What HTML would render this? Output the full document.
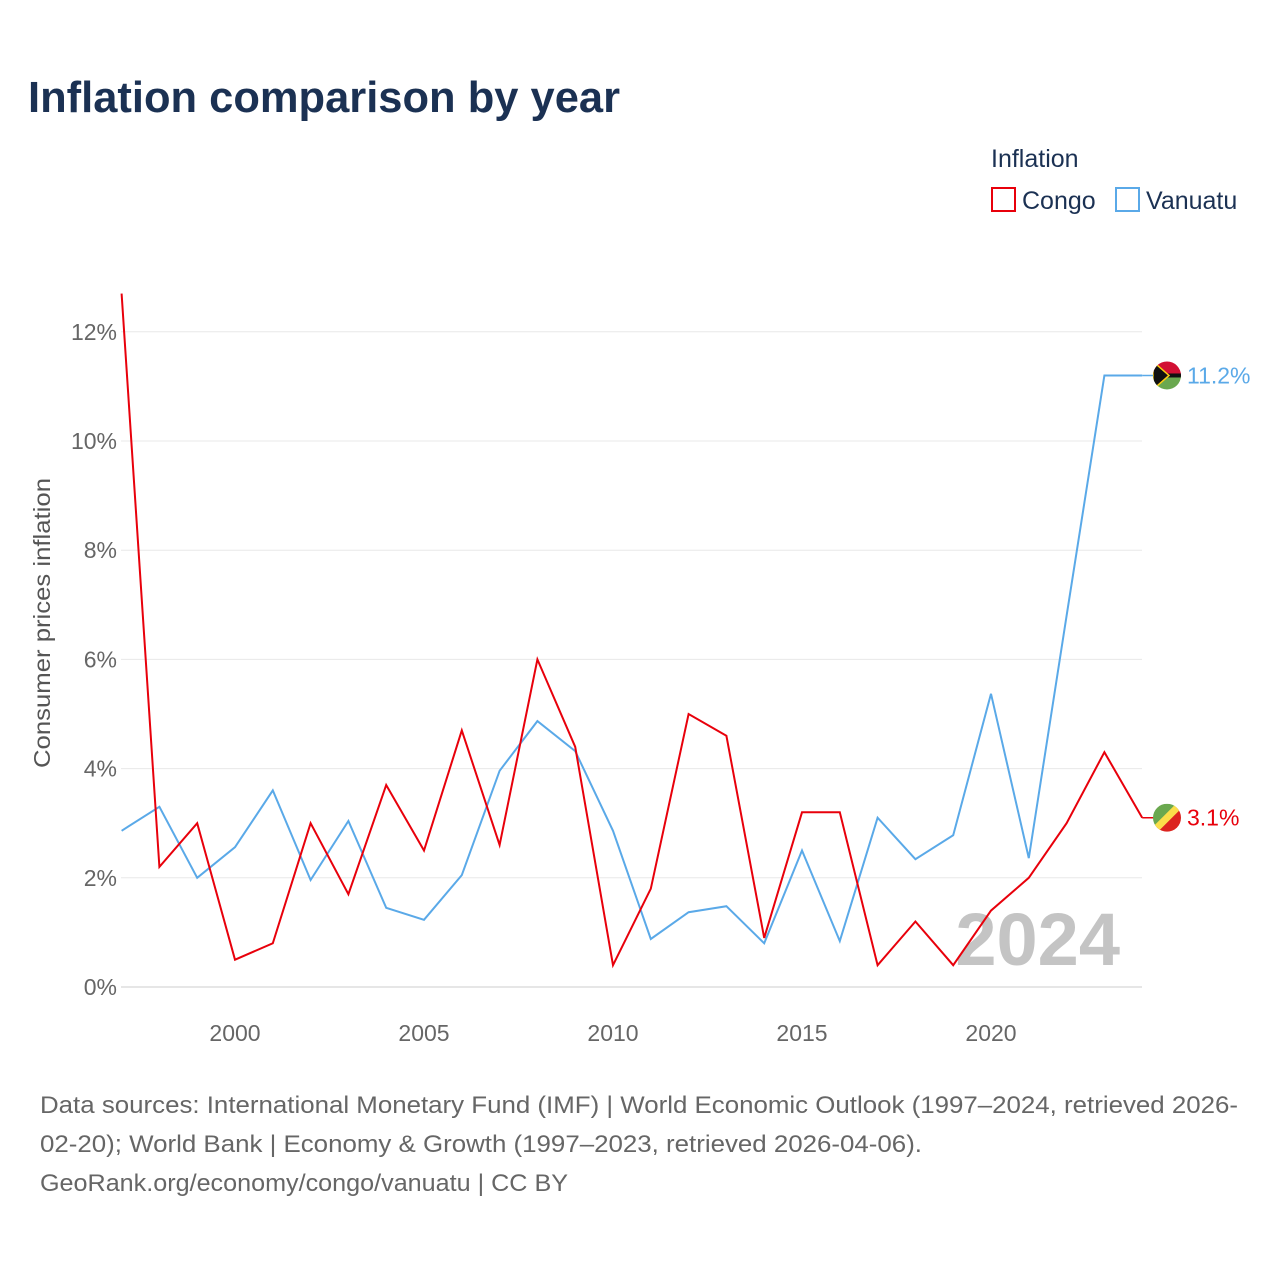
<!DOCTYPE html>
<html><head><meta charset="utf-8">
<style>
body{margin:0;background:#fff;font-family:"Liberation Sans",sans-serif;}
#wrap{position:relative;width:1280px;height:1280px;overflow:hidden;}
</style></head>
<body>
<div id="wrap">
<svg id="chart" width="1280" height="1280">
<text x="28" y="112" font-size="44" font-weight="bold" fill="#1b3153" textLength="592" lengthAdjust="spacingAndGlyphs">Inflation comparison by year</text>
<text x="991" y="167" font-size="25" fill="#1b3153">Inflation</text>
<g>
<rect x="992" y="188" width="23" height="23" fill="#fff" stroke="#e8000b" stroke-width="2"/>
<text x="1022" y="209" font-size="25" fill="#1b3153">Congo</text></g>
<g>
<rect x="1116" y="188" width="23" height="23" fill="#fff" stroke="#5aa9e8" stroke-width="2"/>
<text x="1146" y="209" font-size="25" fill="#1b3153">Vanuatu</text></g>
<text transform="translate(50,623) rotate(-90)" text-anchor="middle" font-size="23" fill="#555" textLength="290" lengthAdjust="spacingAndGlyphs">Consumer prices inflation</text>
<g id="grid"></g>
<text x="1120" y="965" text-anchor="end" font-size="74" font-weight="bold" fill="#c4c4c4">2024</text>
<g id="series"></g>
<text x="40" y="1113" font-size="24" fill="#666" textLength="1198" lengthAdjust="spacingAndGlyphs">Data sources: International Monetary Fund (IMF) | World Economic Outlook (1997–2024, retrieved 2026-</text>
<text x="40" y="1152" font-size="24" fill="#666" textLength="882" lengthAdjust="spacingAndGlyphs">02-20); World Bank | Economy &amp; Growth (1997–2023, retrieved 2026-04-06).</text>
<text x="40" y="1191" font-size="24" fill="#666" textLength="528" lengthAdjust="spacingAndGlyphs">GeoRank.org/economy/congo/vanuatu | CC BY</text>
</svg>
</div>
<script>
const years=[1997,1998,1999,2000,2001,2002,2003,2004,2005,2006,2007,2008,2009,2010,2011,2012,2013,2014,2015,2016,2017,2018,2019,2020,2021,2022,2023,2024];
const congo=[12.7,2.2,3.0,0.5,0.8,3.0,1.7,3.7,2.5,4.7,2.6,6.0,4.4,0.4,1.8,5.0,4.6,0.9,3.2,3.2,0.4,1.2,0.4,1.4,2.0,3.0,4.3,3.1];
const vanuatu=[2.86,3.3,2.0,2.56,3.6,1.96,3.04,1.45,1.23,2.05,3.96,4.87,4.32,2.86,0.88,1.37,1.48,0.8,2.5,0.84,3.1,2.34,2.78,5.37,2.36,6.8,11.2,11.2];
const yTicks=[0,2,4,6,8,10,12];
const xTicks=[2000,2005,2010,2015,2020];
const xs=y=>235+(y-2000)*37.8;
const ys=v=>987-v*54.6;
const NS="http://www.w3.org/2000/svg";
function mk(tag,attrs,parent){const e=document.createElementNS(NS,tag);for(const k in attrs)e.setAttribute(k,attrs[k]);parent.appendChild(e);return e;}
const grid=document.getElementById('grid');
yTicks.forEach(t=>{
 const l=mk('line',{x1:121,x2:1142,y1:ys(t),y2:ys(t),stroke:t===0?'#ccc':'#e8e8e8','stroke-width':1},grid);
 
 
 const tx=mk('text',{x:117,y:ys(t)+8,'text-anchor':'end','font-size':23,fill:'#666'},grid);
 tx.textContent=t+'%';
 
 
});
xTicks.forEach(t=>{
 const tx=mk('text',{x:xs(t),y:1041,'text-anchor':'middle','font-size':23,fill:'#666'},grid);
 tx.textContent=t;
 
 
});
const ser=document.getElementById('series');
function line(vals,color,name){
 const d=vals.map((v,i)=>(i?'L':'M')+xs(years[i]).toFixed(1)+','+ys(v).toFixed(1)).join('');
 const p=mk('path',{d:d,fill:'none',stroke:color,'stroke-width':2},ser);
 
 
}
line(vanuatu,'#5aa9e8','vanuatu-line');
line(congo,'#e8000b','congo-line');
function endLabel(v,color,name,flag){
 const y=ys(v);
 const c=mk('line',{x1:xs(2024),x2:1160,y1:y,y2:y,stroke:color,'stroke-width':1.5},ser);
 
 
 const g=mk('g',{},ser);
 
 
 const id='clip'+name;
 const cp=mk('clipPath',{id:id},g);mk('circle',{cx:1167,cy:y,r:14},cp);
 const gg=mk('g',{'clip-path':'url(#'+id+')'},g);
 if(flag==='vu'){
  mk('rect',{x:1153,y:y-14,width:28,height:14,fill:'#d21034'},gg);
  mk('rect',{x:1153,y:y,width:28,height:14,fill:'#6aa84f'},gg);
  mk('rect',{x:1153,y:y-2,width:28,height:4,fill:'#111'},gg);
  mk('polygon',{points:`1153,${y-14} 1169,${y} 1153,${y+14}`,fill:'#111',stroke:'#fdce12','stroke-width':1.5},gg);
 }else{
  mk('polygon',{points:`1153,${y-14} 1181,${y-14} 1153,${y+14}`,fill:'#6aa84f'},gg);
  mk('polygon',{points:`1181,${y-14} 1181,${y+14} 1153,${y+14}`,fill:'#dc241f'},gg);
  mk('line',{x1:1153,y1:y+14,x2:1181,y2:y-14,stroke:'#fbde4a','stroke-width':7},gg);
 }
 const t=mk('text',{x:1187,y:y+8,'font-size':23,fill:color},ser);
 t.textContent=v.toFixed(1)+'%';
 
 
}
endLabel(vanuatu[vanuatu.length-1],'#5aa9e8','vanuatu','vu');
endLabel(congo[congo.length-1],'#e8000b','congo','cg');
</script>
</body></html>
